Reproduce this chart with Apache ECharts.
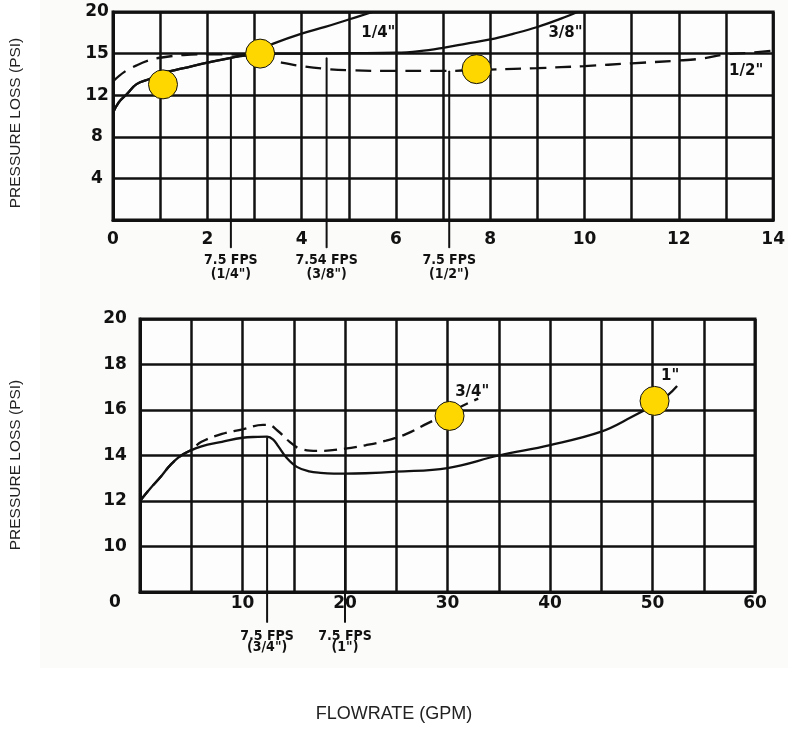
<!DOCTYPE html>
<html>
<head>
<meta charset="utf-8">
<script src="https://cdn.jsdelivr.net/npm/echarts@6/dist/echarts.min.js"></script>
<style>
  html, body { margin: 0; padding: 0; background: #fff; }
  #chart { width: 788px; height: 729px; }
</style>
</head>
<body>
<div id="chart"></div>
<script>
// ---- top chart: 1/4", 3/8", 1/2" (0-14 GPM) ----
const topYTicks = [0, 4, 8, 12, 15, 20];
const topYLabels = ['', '4', '8', '12', '15', '20'];

const quarterX = [0, 0.12, 0.3, 0.5, 0.8, 1, 1.5, 2, 2.5, 3, 3.4, 4, 4.5, 5, 5.5];
const quarterY = [10.3, 11.3, 12.1, 12.8, 13.2, 13.55, 13.95, 14.35, 14.7, 15.2, 16.2, 17.4, 18.2, 19.1, 20];

const threeEighthX = [0, 0.12, 0.3, 0.5, 0.8, 1, 1.5, 2, 2.5, 3, 3.5, 4, 5, 6, 6.5, 7, 7.5, 8, 8.5, 9, 9.5, 9.85];
const threeEighthY = [10.3, 11.3, 12.1, 12.8, 13.2, 13.55, 13.95, 14.35, 14.7, 14.95, 15.0, 15.0, 15.05, 15.1, 15.3, 15.7, 16.2, 16.7, 17.4, 18.2, 19.2, 20];

const halfX = [0, 0.25, 0.5, 0.75, 1, 1.5, 2, 2.5, 3, 3.5, 4, 4.5, 5, 6, 7, 8, 9, 10, 11, 12, 12.5, 13, 13.5, 14];
const halfY = [13.0, 13.7, 14.15, 14.5, 14.7, 14.9, 14.95, 14.95, 14.75, 14.4, 14.1, 13.9, 13.8, 13.75, 13.75, 13.85, 13.95, 14.1, 14.3, 14.5, 14.65, 14.95, 15.1, 15.35];

const topDotX = [1.06, 3.12, 7.71];
const topDotY = [12.78, 15.0, 13.88];

const topFpsX = [2.5, 4.53, 7.13];
const topFpsY = [14.7, 14.7, 13.75];
const topFpsText = ['7.5 FPS\n(1/4")', '7.54 FPS\n(3/8")', '7.5 FPS\n(1/2")'];

// ---- bottom chart: 3/4", 1" (0-60 GPM) ----
const botYTicks = [0, 10, 12, 14, 16, 18, 20];
const botYLabels = ['0', '10', '12', '14', '16', '18', '20'];

const oneX = [0, 1, 2, 3, 4.2, 6, 8, 10, 11.5, 12.4, 13, 13.5, 14.3, 15.3, 16.5, 17.6, 20, 22, 25, 30, 35, 40, 45, 48, 50, 51.5, 52.4];
const oneY = [12.0, 12.55, 13.05, 13.6, 14.05, 14.4, 14.6, 14.78, 14.82, 14.83, 14.7, 14.4, 13.9, 13.5, 13.3, 13.24, 13.2, 13.22, 13.29, 13.45, 14.0, 14.46, 15.05, 15.7, 16.2, 16.65, 17.05];

const threeQX = [0, 1, 2, 3, 4.2, 5, 6, 8, 10, 12, 12.5, 13.4, 14.6, 15.6, 17.3, 20, 22, 24, 26, 28, 30, 32, 33];
const threeQY = [12.0, 12.55, 13.05, 13.6, 14.05, 14.25, 14.6, 14.95, 15.15, 15.35, 15.35, 15.1, 14.6, 14.3, 14.2, 14.3, 14.45, 14.65, 14.95, 15.4, 15.85, 16.3, 16.5];

const botDotX = [30.2, 50.2];
const botDotY = [15.74, 16.4];

const botFpsX = [12.4, 20];
const botFpsY = [14.8, 13.2];
const botFpsText = ['7.5 FPS\n(3/4")', '7.5 FPS\n(1")'];

// the printed y scales are not linear: each labelled step takes one equal band
function toBand(v, ticks) {
  for (let i = 0; i < ticks.length - 1; i++) {
    if (v <= ticks[i + 1] || i === ticks.length - 2) {
      return i + (v - ticks[i]) / (ticks[i + 1] - ticks[i]);
    }
  }
}

const pairs = (xs, ys, ticks) => xs.map((x, i) => [x, toBand(ys[i], ticks)]);

const INK = '#111';
const tickFont = { fontFamily: 'DejaVu Sans', fontWeight: 'bold', fontSize: 17, color: INK };
const fpsFont = { fontFamily: 'DejaVu Sans Condensed', fontWeight: 'bold', fontSize: 14, color: INK };
const FPS_DROP = -0.67;

function curve(name, xs, ys, ticks, idx, dashed, labelOffset) {
  return {
    name: name,
    type: 'line',
    xAxisIndex: idx,
    yAxisIndex: idx,
    data: pairs(xs, ys, ticks),
    smooth: 0.4,
    symbol: 'none',
    lineStyle: { color: INK, width: 2.3, type: dashed ? dashed : 'solid' },
    endLabel: {
      show: true,
      formatter: name,
      distance: 0,
      align: 'center',
      verticalAlign: 'middle',
      offset: labelOffset,
      fontFamily: 'DejaVu Sans',
      fontWeight: 'bold',
      fontSize: 15,
      color: INK
    },
    emphasis: { disabled: true },
    z: 3
  };
}

function fpsLines(xs, ys, texts, ticks, idx, lineH, dist) {
  return xs.map((x, i) => ({
    type: 'line',
    xAxisIndex: idx,
    yAxisIndex: idx,
    clip: false,
    symbol: 'circle',
    symbolSize: 1,
    itemStyle: { color: INK },
    lineStyle: { color: INK, width: 2 },
    emphasis: { disabled: true },
    data: [
      [x, toBand(ys[i], ticks)],
      {
        value: [x, FPS_DROP],
        label: {
          show: true,
          position: 'bottom',
          distance: dist,
          formatter: texts[i],
          lineHeight: lineH,
          align: 'center',
          ...fpsFont
        }
      }
    ],
    z: 2
  }));
}

function dots(xs, ys, ticks, idx) {
  return {
    type: 'scatter',
    xAxisIndex: idx,
    yAxisIndex: idx,
    data: pairs(xs, ys, ticks),
    symbolSize: 29,
    itemStyle: { color: '#ffd700', borderColor: INK, borderWidth: 1, opacity: 1 },
    emphasis: { disabled: true },
    z: 5
  };
}

const chart = echarts.init(document.getElementById('chart'), null, { renderer: 'canvas' });

const option = {
  backgroundColor: '#ffffff',
  animation: false,
  graphic: [
    { type: 'rect', z: -10, shape: { x: 40, y: 0, width: 748, height: 668 }, style: { fill: '#fbfbfa' } },
    { type: 'text', x: 16, y: 123, rotation: Math.PI / 2,
      style: { text: 'PRESSURE LOSS (PSI)', font: '15.5px "Liberation Sans", Arial, sans-serif', fill: '#222', align: 'center', verticalAlign: 'middle' } },
    { type: 'text', x: 16, y: 465, rotation: Math.PI / 2,
      style: { text: 'PRESSURE LOSS (PSI)', font: '15.5px "Liberation Sans", Arial, sans-serif', fill: '#222', align: 'center', verticalAlign: 'middle' } },
    { type: 'text', x: 394, y: 714,
      style: { text: 'FLOWRATE (GPM)', font: '18px "Liberation Sans", Arial, sans-serif', fill: '#222', align: 'center', verticalAlign: 'middle' } }
  ],
  grid: [
    { left: 113, width: 665, top: 12, height: 208, show: true, borderColor: INK, borderWidth: 3, backgroundColor: '#fdfdfd' },
    { left: 140, width: 615, top: 319, height: 273, show: true, borderColor: INK, borderWidth: 3, backgroundColor: '#fdfdfd' }
  ],
  xAxis: [
    {
      gridIndex: 0, type: 'value', min: 0, max: 14, interval: 1,
      axisLine: { show: true, lineStyle: { color: INK, width: 3 } },
      axisTick: { show: false },
      splitLine: { show: true, lineStyle: { color: INK, width: 2.5 } },
      axisLabel: { margin: 11, formatter: v => (v % 2 === 0 ? String(v) : ''), ...tickFont }
    },
    {
      gridIndex: 1, type: 'value', min: 0, max: 60, interval: 5,
      axisLine: { show: true, lineStyle: { color: INK, width: 3 } },
      axisTick: { show: false },
      splitLine: { show: true, lineStyle: { color: INK, width: 2.5 } },
      axisLabel: { margin: 3, formatter: v => (v % 10 === 0 && v > 0 ? String(v) : ''), ...tickFont }
    }
  ],
  yAxis: [
    {
      gridIndex: 0, type: 'value', min: 0, max: topYTicks.length - 1, interval: 1,
      axisLine: { show: true, lineStyle: { color: INK, width: 3 } },
      axisTick: { show: false },
      splitLine: { show: true, lineStyle: { color: INK, width: 2.5 } },
      axisLabel: { margin: 16, align: 'center', formatter: v => topYLabels[v] || '', ...tickFont }
    },
    {
      gridIndex: 1, type: 'value', min: 0, max: botYTicks.length - 1, interval: 1,
      axisLine: { show: true, lineStyle: { color: INK, width: 3 } },
      axisTick: { show: false },
      splitLine: { show: true, lineStyle: { color: INK, width: 2.5 } },
      axisLabel: {
        margin: 25, align: 'center',
        formatter: v => (v === 0 ? '{z|0}' : botYLabels[v] || ''),
        rich: { z: { padding: [22, 0, 0, 0], ...tickFont } },
        ...tickFont
      }
    }
  ],
  series: [
    curve('1/4"', quarterX, quarterY, topYTicks, 0, null, [6, 21]),
    curve('3/8"', threeEighthX, threeEighthY, topYTicks, 0, null, [-12, 21]),
    curve('1/2"', halfX, halfY, topYTicks, 0, [16, 9], [-27, 20]),
    curve('1"', oneX, oneY, botYTicks, 1, null, [-7, -10]),
    curve('3/4"', threeQX, threeQY, botYTicks, 1, [13, 7], [-6, -7]),
    ...fpsLines(topFpsX, topFpsY, topFpsText, topYTicks, 0, 14, 5),
    ...fpsLines(botFpsX, botFpsY, botFpsText, botYTicks, 1, 11, 8),
    dots(topDotX, topDotY, topYTicks, 0),
    dots(botDotX, botDotY, botYTicks, 1)
  ]
};

chart.setOption(option);
window.addEventListener('resize', () => chart.resize());
</script>
</body>
</html>
